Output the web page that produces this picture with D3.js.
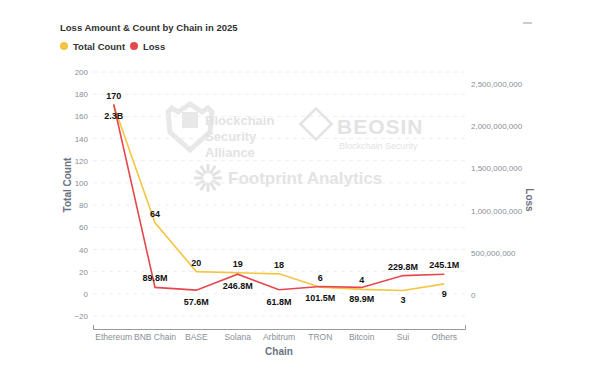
<!DOCTYPE html>
<html>
<head>
<meta charset="utf-8">
<script src="https://cdn.jsdelivr.net/npm/d3@7"></script>
<style>
body { margin: 0; background: #fff; font-family: "Liberation Sans", Arial, sans-serif; }
.tick text { fill: #8a8f98; font-size: 8px; font-family: "Liberation Sans", Arial, sans-serif; }
.lbl { font-size: 9px; font-weight: 700; fill: #111; }
.wm { fill: #e3e3e3; font-weight: 700; }
</style>
</head>
<body>
<div id="chart"></div>
<script>
var chains = ["Ethereum", "BNB Chain", "BASE", "Solana", "Arbitrum", "TRON", "Bitcoin", "Sui", "Others"];
var totalCount = [170, 64, 20, 19, 18, 6, 4, 3, 9];
var lossAmount = [2.26e9, 89.8e6, 57.6e6, 246.8e6, 61.8e6, 101.5e6, 89.9e6, 229.8e6, 245.1e6];
var countTicks = [-20, 0, 20, 40, 60, 80, 100, 120, 140, 160, 180, 200];
var lossTicks = [0, 500e6, 1000e6, 1500e6, 2000e6, 2500e6];
// where the labels sit, as in the reference
var countLabelSide = ["up", "up", "up", "up", "up", "up", "up", "down", "down"];
var lossLabelSide = ["down", "up", "down", "down", "down", "down", "down", "up", "up"];

var W = 600, H = 375;
var svg = d3.select("#chart").append("svg").attr("width", W).attr("height", H);

var x = d3.scaleBand().domain(chains).range([93, 465]);
var yL = d3.scaleLinear().domain([-20, 200]).range([316, 72]);
var yR = d3.scaleLinear().domain([0, 2.5e9]).range([295, 84]);
var cx = function (d) { return x(d) + x.bandwidth() / 2; };

// watermarks
var wm = svg.append("g");
wm.append("path")
    .attr("d", "M168,112 L172,108 L178,112 L190,104 L202,112 L208,108 L212,112 L210,132 L190,150 L170,132 Z")
    .attr("fill", "none").attr("stroke", "#e8e8e8").attr("stroke-width", 5);
wm.append("rect").attr("x", 182).attr("y", 112).attr("width", 16).attr("height", 16).attr("fill", "#e8e8e8");
["Blockchain", "Security", "Alliance"].forEach(function (t, i) {
    wm.append("text").attr("class", "wm").attr("x", 205).attr("y", 125 + i * 16).style("font-size", "13px").text(t);
});
wm.append("rect").attr("x", 305).attr("y", 113).attr("width", 22).attr("height", 22)
    .attr("fill", "none").attr("stroke", "#e3e3e3").attr("stroke-width", 2.5).attr("transform", "rotate(45 316 124)");
wm.append("text").attr("class", "wm").attr("x", 337).attr("y", 134).style("font-size", "21px").style("letter-spacing", "1px").text("BEOSIN");
wm.append("text").attr("class", "wm").attr("x", 339).attr("y", 149).style("font-size", "9px").style("font-weight", "400").text("Blockchain Security");
wm.selectAll(".ray").data(d3.range(12)).enter().append("line")
    .attr("x1", function (d) { return 208 + 6 * Math.cos(d * Math.PI / 6); })
    .attr("y1", function (d) { return 178 + 6 * Math.sin(d * Math.PI / 6); })
    .attr("x2", function (d) { return 208 + 13 * Math.cos(d * Math.PI / 6); })
    .attr("y2", function (d) { return 178 + 13 * Math.sin(d * Math.PI / 6); })
    .attr("stroke", "#e3e3e3").attr("stroke-width", 3).attr("stroke-linecap", "round");
wm.append("text").attr("class", "wm").attr("x", 228).attr("y", 184).style("font-size", "17px").text("Footprint Analytics");

// title and legend
svg.append("text").attr("x", 60).attr("y", 31).style("font-size", "9.5px").style("font-weight", "700")
    .attr("fill", "#333").text("Loss Amount & Count by Chain in 2025");
var legend = [["Total Count", "#f5c542", 64], ["Loss", "#e5484d", 134]];
legend.forEach(function (l) {
    svg.append("circle").attr("cx", l[2]).attr("cy", 46).attr("r", 4).attr("fill", l[1]);
    svg.append("text").attr("x", l[2] + 9).attr("y", 49.5).style("font-size", "9.5px").style("font-weight", "700")
        .attr("fill", "#333").text(l[0]);
});

// grid
svg.append("g").selectAll("line").data(countTicks).enter().append("line")
    .attr("x1", 93).attr("x2", 465)
    .attr("y1", function (d) { return yL(d); }).attr("y2", function (d) { return yL(d); })
    .attr("stroke", "#eeeeee").attr("stroke-dasharray", "4,4");

// axes
svg.append("g").attr("transform", "translate(88,0)")
    .call(d3.axisLeft(yL).tickValues(countTicks).tickSize(0).tickPadding(0))
    .call(function (g) { g.select(".domain").remove(); });
svg.append("g").attr("transform", "translate(471,0)")
    .call(d3.axisRight(yR).tickValues(lossTicks).tickSize(0).tickPadding(0).tickFormat(d3.format(",")))
    .call(function (g) { g.select(".domain").remove(); });
var xa = svg.append("g").attr("transform", "translate(0,329)")
    .call(d3.axisBottom(x).tickSize(0).tickSizeOuter(-4).tickPadding(5));
xa.select(".domain").attr("stroke", "#999");
xa.selectAll(".tick text").style("font-size", "8.5px").attr("fill", "#777");

svg.append("text").attr("transform", "translate(71,185) rotate(-90)").attr("text-anchor", "middle")
    .style("font-size", "10px").style("font-weight", "700").attr("fill", "#6b7280").text("Total Count");
svg.append("text").attr("transform", "translate(526,200) rotate(90)").attr("text-anchor", "middle")
    .style("font-size", "10px").style("font-weight", "700").attr("fill", "#6b7280").text("Loss");
svg.append("text").attr("x", 279).attr("y", 355).attr("text-anchor", "middle")
    .style("font-size", "10px").style("font-weight", "700").attr("fill", "#6b7280").text("Chain");

// lines
var countLine = d3.line().x(function (d, i) { return cx(chains[i]); }).y(function (d) { return yL(d); });
var lossLine = d3.line().x(function (d, i) { return cx(chains[i]); }).y(function (d) { return yR(d); });
svg.append("path").datum(totalCount).attr("d", countLine).attr("fill", "none")
    .attr("stroke", "#f5c542").attr("stroke-width", 1.6);
svg.append("path").datum(lossAmount).attr("d", lossLine).attr("fill", "none")
    .attr("stroke", "#e5484d").attr("stroke-width", 1.6);

// labels
var fmtLoss = function (v) {
    return v >= 1e9 ? d3.format(".1f")(v / 1e9) + "B" : d3.format(".1f")(v / 1e6) + "M";
};
svg.append("g").selectAll("text").data(totalCount).enter().append("text")
    .attr("class", "lbl").attr("text-anchor", "middle")
    .attr("x", function (d, i) { return cx(chains[i]); })
    .attr("y", function (d, i) { return countLabelSide[i] === "up" ? yL(d) - 6 : yL(d) + 13; })
    .text(function (d) { return d; });
svg.append("g").selectAll("text").data(lossAmount).enter().append("text")
    .attr("class", "lbl").attr("text-anchor", "middle")
    .attr("x", function (d, i) { return cx(chains[i]); })
    .attr("y", function (d, i) { return lossLabelSide[i] === "up" ? yR(d) - 6 : yR(d) + 15; })
    .text(function (d) { return fmtLoss(d); });

// small mark top right
svg.append("line").attr("x1", 523).attr("x2", 532).attr("y1", 23).attr("y2", 23).attr("stroke", "#999").attr("stroke-width", 1);
</script>
</body>
</html>
